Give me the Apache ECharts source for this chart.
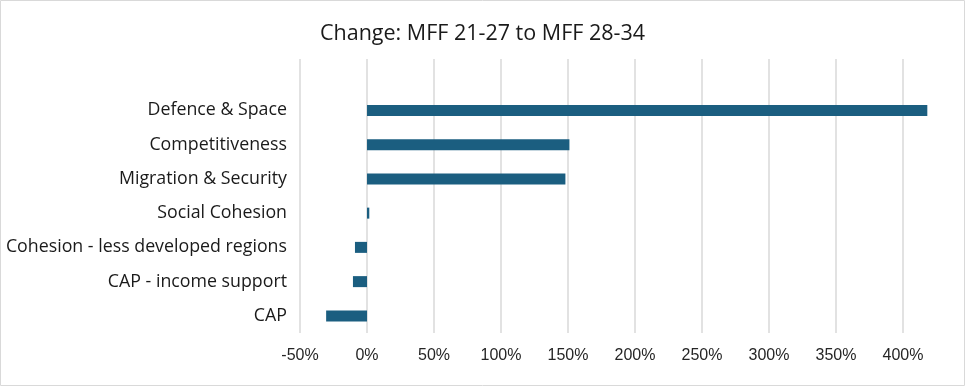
<!DOCTYPE html>
<html>
<head>
<meta charset="utf-8">
<script src="https://cdn.jsdelivr.net/npm/echarts@6/dist/echarts.min.js"></script>
<style>
html,body{margin:0;padding:0;background:#fff;}
#c{width:965px;height:386px;}
</style>
</head>
<body>
<div id="c"></div>
<script>
// Categories listed bottom to top; the blank one is the empty slot at the top of the plot
var categories = ["CAP", "CAP - income support", "Cohesion - less developed regions", "Social Cohesion", "Migration & Security", "Competitiveness", "Defence & Space", ""];
var changeValues = [-0.305, -0.105, -0.09, 0.017, 1.48, 1.51, 4.18, null];
var tickMin = -0.5;
var tickMax = 4.0;
var tickStep = 0.5;
var axisEnd = 4.2;
var titleText = "Change: MFF 21-27 to MFF 28-34";

var FONT = "Open Sans";
var chart = echarts.init(document.getElementById('c'), null, {renderer: 'canvas'});
chart.setOption({
  animation: false,
  title: {
    text: titleText, left: 'center', top: 18,
    textStyle: {fontFamily: FONT, fontSize: 21.5, fontWeight: 'normal', color: '#1a1a1a'}
  },
  graphic: [{
    type: 'rect', shape: {x: 0.5, y: 0.5, width: 964, height: 385},
    style: {fill: 'none', stroke: '#d9d9d9', lineWidth: 1}, silent: true, z: -10
  }],
  grid: [
    {left: 300, right: 35, top: 59, bottom: 53, containLabel: false},
    {left: 300, right: 62, top: 59, bottom: 53, containLabel: false}
  ],
  xAxis: [
    {type: 'value', gridIndex: 0, min: tickMin, max: axisEnd, show: false},
    {type: 'value', gridIndex: 1, min: tickMin, max: tickMax, interval: tickStep,
     axisLine: {show: false}, axisTick: {show: false},
     splitLine: {show: true, lineStyle: {color: '#d9d9d9', width: 1.5}},
     axisLabel: {fontFamily: 'Liberation Sans', fontSize: 16, color: '#262626', margin: 15,
       formatter: function (v) { return Math.round(v * 100) + '%'; }}}
  ],
  yAxis: [
    {type: 'category', gridIndex: 0, data: categories,
     axisLine: {show: false}, axisTick: {show: false}, splitLine: {show: false},
     axisLabel: {fontFamily: FONT, fontSize: 17.8, color: '#1a1a1a', margin: 13}},
    {type: 'category', gridIndex: 1, data: categories, show: false}
  ],
  series: [{
    type: 'bar', xAxisIndex: 0, yAxisIndex: 0, data: changeValues,
    barWidth: 11, itemStyle: {color: '#1b5e80'}
  }]
});
</script>
</body>
</html>
